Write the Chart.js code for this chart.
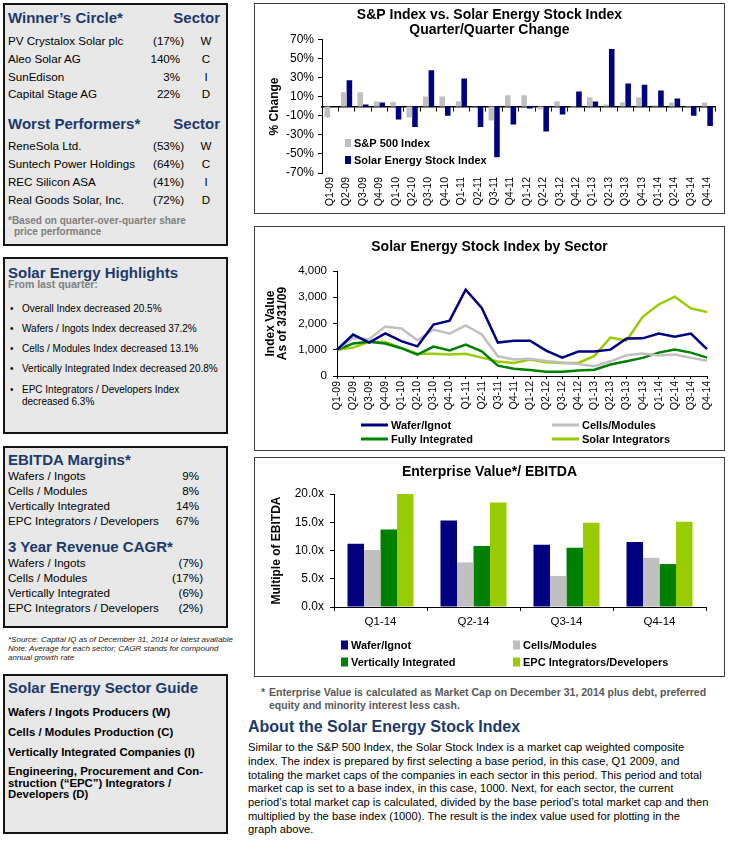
<!DOCTYPE html>
<html><head><meta charset="utf-8">
<script src="https://cdn.jsdelivr.net/npm/chart.js@4.4.1/dist/chart.umd.min.js"></script>
<style>
html,body{margin:0;padding:0;background:#fff;}
body{width:730px;height:841px;position:relative;overflow:hidden;font-family:"Liberation Sans",Arial,sans-serif;color:#000;}
.panel{position:absolute;box-sizing:border-box;border:2px solid #141414;background:#e8e8e8;}
.frame{position:absolute;box-sizing:border-box;border:1px solid #3c3c3c;background:#fff;}
.frame canvas{position:absolute;left:0;top:0;}
.t{position:absolute;white-space:nowrap;line-height:16px;height:16px;}
.h{font-size:15px;font-weight:bold;color:#1b3a6b;}
.r{font-size:11.6px;}
.b{font-size:10px;}
.g{font-weight:bold;color:#7f7f7f;}
.s{font-size:11.4px;font-weight:bold;}
.hp{visibility:hidden;}
.rt{text-align:right;}
.ct{text-align:center;}
</style></head>
<body>
<!-- Left panels -->
<div class="panel" style="left:3px;top:3px;width:225px;height:243px;"></div>
<div class="t h" style="left:8px;top:10px;">Winner’s Circle*</div>
<div class="t h rt" style="left:150px;top:10px;width:70px;">Sector</div>
<div class="t r" style="left:8px;top:33px;">PV Crystalox Solar plc</div>
<div class="t r rt" style="left:130px;top:33px;width:54px;">(17%)</div>
<div class="t r ct" style="left:196px;top:33px;width:20px;">W</div>
<div class="t r" style="left:8px;top:51px;">Aleo Solar AG</div>
<div class="t r rt" style="left:130px;top:51px;width:54px;">140%<span class="hp">)</span></div>
<div class="t r ct" style="left:196px;top:51px;width:20px;">C</div>
<div class="t r" style="left:8px;top:69px;">SunEdison</div>
<div class="t r rt" style="left:130px;top:69px;width:54px;">3%<span class="hp">)</span></div>
<div class="t r ct" style="left:196px;top:69px;width:20px;">I</div>
<div class="t r" style="left:8px;top:86px;">Capital Stage AG</div>
<div class="t r rt" style="left:130px;top:86px;width:54px;">22%<span class="hp">)</span></div>
<div class="t r ct" style="left:196px;top:86px;width:20px;">D</div>
<div class="t h" style="left:8px;top:116px;">Worst Performers*</div>
<div class="t h rt" style="left:150px;top:116px;width:70px;">Sector</div>
<div class="t r" style="left:8px;top:138px;">ReneSola Ltd.</div>
<div class="t r rt" style="left:130px;top:138px;width:54px;">(53%)</div>
<div class="t r ct" style="left:196px;top:138px;width:20px;">W</div>
<div class="t r" style="left:8px;top:156px;">Suntech Power Holdings</div>
<div class="t r rt" style="left:130px;top:156px;width:54px;">(64%)</div>
<div class="t r ct" style="left:196px;top:156px;width:20px;">C</div>
<div class="t r" style="left:8px;top:174px;">REC Silicon ASA</div>
<div class="t r rt" style="left:130px;top:174px;width:54px;">(41%)</div>
<div class="t r ct" style="left:196px;top:174px;width:20px;">I</div>
<div class="t r" style="left:8px;top:192px;">Real Goods Solar, Inc.</div>
<div class="t r rt" style="left:130px;top:192px;width:54px;">(72%)</div>
<div class="t r ct" style="left:196px;top:192px;width:20px;">D</div>
<div class="t b g" style="left:8px;top:213px;">*Based on quarter-over-quarter share</div>
<div class="t b g" style="left:14px;top:224px;">price performance</div>

<div class="panel" style="left:3px;top:257px;width:225px;height:177px;"></div>
<div class="t h" style="left:8px;top:265px;">Solar Energy Highlights</div>
<div class="t g" style="left:8px;top:276px;font-size:10.5px;">From last quarter:</div>
<div class="t b" style="left:10px;top:301px;">•</div><div class="t b" style="left:22px;top:301px;">Overall Index decreased 20.5%</div>
<div class="t b" style="left:10px;top:321px;">•</div><div class="t b" style="left:22px;top:321px;">Wafers / Ingots Index decreased 37.2%</div>
<div class="t b" style="left:10px;top:341px;">•</div><div class="t b" style="left:22px;top:341px;">Cells / Modules Index decreased 13.1%</div>
<div class="t b" style="left:10px;top:361px;">•</div><div class="t b" style="left:22px;top:361px;">Vertically Integrated Index decreased 20.8%</div>
<div class="t b" style="left:10px;top:382px;">•</div><div class="t b" style="left:22px;top:382px;">EPC Integrators / Developers Index</div>
<div class="t b" style="left:22px;top:394px;">decreased 6.3%</div>

<div class="panel" style="left:3px;top:446px;width:225px;height:182px;"></div>
<div class="t h" style="left:8px;top:452px;">EBITDA Margins*</div>
<div class="t r" style="left:8px;top:468px;">Wafers / Ingots</div><div class="t r rt" style="left:150px;top:468px;width:53px;">9%<span class="hp">)</span></div>
<div class="t r" style="left:8px;top:483px;">Cells / Modules</div><div class="t r rt" style="left:150px;top:483px;width:53px;">8%<span class="hp">)</span></div>
<div class="t r" style="left:8px;top:498px;">Vertically Integrated</div><div class="t r rt" style="left:150px;top:498px;width:53px;">14%<span class="hp">)</span></div>
<div class="t r" style="left:8px;top:513px;">EPC Integrators / Developers</div><div class="t r rt" style="left:150px;top:513px;width:53px;">67%<span class="hp">)</span></div>
<div class="t h" style="left:8px;top:539px;">3 Year Revenue CAGR*</div>
<div class="t r" style="left:8px;top:555px;">Wafers / Ingots</div><div class="t r rt" style="left:150px;top:555px;width:53px;">(7%)</div>
<div class="t r" style="left:8px;top:570px;">Cells / Modules</div><div class="t r rt" style="left:150px;top:570px;width:53px;">(17%)</div>
<div class="t r" style="left:8px;top:585px;">Vertically Integrated</div><div class="t r rt" style="left:150px;top:585px;width:53px;">(6%)</div>
<div class="t r" style="left:8px;top:600px;">EPC Integrators / Developers</div><div class="t r rt" style="left:150px;top:600px;width:53px;">(2%)</div>
<div style="position:absolute;left:8px;top:634.5px;font-size:8px;line-height:9px;font-style:italic;color:#222;white-space:nowrap;">*Source: Capital IQ as of December 31, 2014 or latest available<br>Note: Average for each sector; CAGR stands for compound<br>annual growth rate</div>

<div class="panel" style="left:3px;top:674px;width:225px;height:160px;"></div>
<div class="t h" style="left:8px;top:680px;">Solar Energy Sector Guide</div>
<div class="t s" style="left:8px;top:704px;">Wafers / Ingots Producers (W)</div>
<div class="t s" style="left:8px;top:724px;">Cells / Modules Production (C)</div>
<div class="t s" style="left:8px;top:744px;">Vertically Integrated Companies (I)</div>
<div class="s" style="position:absolute;left:8px;top:765.9px;line-height:11.7px;white-space:nowrap;">Engineering, Procurement and Con-<br>struction (“EPC”) Integrators /<br>Developers (D)</div>

<!-- Chart frames -->
<div class="frame" style="left:254px;top:3px;width:471px;height:211px;"><canvas id="c1" width="469" height="209"></canvas></div>
<div class="frame" style="left:254px;top:226px;width:471px;height:225px;"><canvas id="c2" width="469" height="223"></canvas></div>
<div class="frame" style="left:254px;top:457px;width:471px;height:220px;"><canvas id="c3" width="469" height="218"></canvas></div>

<div class="t g" style="left:261px;top:684px;font-size:10.5px;color:#595959;">*</div>
<div class="t g" style="left:269px;top:684px;font-size:10.5px;color:#595959;">Enterprise Value is calculated as Market Cap on December 31, 2014 plus debt, preferred</div>
<div class="t g" style="left:269px;top:697px;font-size:10.5px;color:#595959;">equity and minority interest less cash.</div>
<div class="t" style="left:248px;top:719px;font-size:16px;font-weight:bold;color:#1b3a6b;">About the Solar Energy Stock Index</div>
<div style="position:absolute;left:248px;top:741.15px;font-size:11.2px;line-height:13.7px;white-space:nowrap;">Similar to the S&amp;P 500 Index, the Solar Stock Index is a market cap weighted composite<br>index. The index is prepared by first selecting a base period, in this case, Q1 2009, and<br>totaling the market caps of the companies in each sector in this period. This period and total<br>market cap is set to a base index, in this case, 1000. Next, for each sector, the current<br>period’s total market cap is calculated, divided by the base period’s total market cap and then<br>multiplied by the base index (1000). The result is the index value used for plotting in the<br>graph above.</div>

<script>
// ---------- DATA ----------
const quarters = ['Q1-09','Q2-09','Q3-09','Q4-09','Q1-10','Q2-10','Q3-10','Q4-10','Q1-11','Q2-11','Q3-11','Q4-11','Q1-12','Q2-12','Q3-12','Q4-12','Q1-13','Q2-13','Q3-13','Q4-13','Q1-14','Q2-14','Q3-14','Q4-14'];
const spChange    = [-11.7, 14.9, 14.9, 5.3, 5.1, -11.7, 10.6, 10.5, 5.4, -0.4, -14.8, 11.9, 11.9, -2.9, 5.5, -0.8, 9.7, 2.0, 4.4, 9.7, 1.3, 4.3, 0.6, 4.3];
const solarChange = [0, 27.7, 2.1, 4.2, -13.7, -21.5, 38.2, -9.8, 29.5, -21.5, -53.5, -19.0, -2.0, -26.3, -8.4, 15.8, 5.3, 60.4, 24.2, 22.8, 16.8, 8.4, -9.8, -20.5];

const waferIndex           = [1000,1580,1270,1620,1330,1130,1960,2110,3290,2590,1275,1345,1345,965,700,930,930,1005,1430,1435,1615,1500,1615,1025];
const cellsIndex           = [1000,1450,1400,1885,1810,1360,1770,1615,1925,1580,750,630,660,575,510,460,370,560,790,855,780,815,690,585];
const integratedIndex      = [1000,1235,1305,1235,1060,815,1120,970,1200,940,395,280,230,165,165,205,240,435,560,690,890,1005,890,700];
const solarIntegratorIndex = [1000,1080,1300,1300,1060,850,850,815,850,700,550,500,625,520,500,500,765,1465,1350,2255,2725,3020,2575,2435];

const evQuarters = ['Q1-14','Q2-14','Q3-14','Q4-14'];
const evWafer    = [11.2, 15.3, 11.0, 11.5];
const evCells    = [10.1, 7.9, 5.5, 8.7];
const evVertical = [13.7, 10.8, 10.5, 7.6];
const evEPC      = [20.0, 18.5, 14.9, 15.1];

// ---------- STYLE ----------
const NAVY='#000080', GRAY='#c0c0c0', GREEN='#008000', LIME='#99cc00';
Chart.defaults.font.family = '"Liberation Sans", Arial, sans-serif';
Chart.defaults.color = '#000';
Chart.defaults.animation = false;

const gridLegend = {
  id: 'gridLegend',
  afterDraw(chart, args, o) {
    const ctx = chart.ctx;
    ctx.save();
    ctx.font = o.font;
    ctx.textBaseline = 'middle';
    ctx.textAlign = 'left';
    chart.data.datasets.forEach((ds, i) => {
      const p = o.positions[i]; if (!p) return;
      if (o.marker === 'line') {
        ctx.strokeStyle = ds.borderColor; ctx.lineWidth = o.lineWidth;
        ctx.beginPath(); ctx.moveTo(p[0], p[1]); ctx.lineTo(p[0] + o.markerW, p[1]); ctx.stroke();
      } else {
        ctx.fillStyle = ds.backgroundColor;
        ctx.fillRect(p[0], p[1] - o.markerH / 2, o.markerW, o.markerH);
      }
      ctx.fillStyle = '#000';
      ctx.fillText(ds.label, p[0] + o.markerW + o.gap, p[1] + 0.5);
    });
    ctx.restore();
  }
};

const dummyRight = w => ({type:'linear', position:'right', display:true, afterFit(s){s.width=w;},
  ticks:{display:false}, grid:{display:false, drawTicks:false}, border:{display:false}});

// ---------- CHART 1 ----------
new Chart(document.getElementById('c1'), {
  type: 'bar',
  data: { labels: quarters, datasets: [
    { label: 'S&P 500 Index', data: spChange, backgroundColor: GRAY, xAxisID: 'x' },
    { label: 'Solar Energy Stock Index', data: solarChange, backgroundColor: NAVY, xAxisID: 'x' }
  ]},
  options: {
    responsive: false, animation: false,
    layout: { padding: { left: 0, right: 0, top: 0, bottom: 0 } },
    datasets: { bar: { categoryPercentage: 0.68, barPercentage: 1 } },
    plugins: {
      legend: { display: false }, tooltip: { enabled: false },
      title: { display: true, text: ['S&P Index vs. Solar Energy Stock Index', 'Quarter/Quarter Change'],
        font: { size: 14, weight: 'bold', lineHeight: 1.07 }, color: '#000', padding: { top: 4, bottom: 2 } },
      gridLegend: { positions: [[90,139],[90,156]], marker: 'box', markerW: 6, markerH: 8, gap: 3, font: 'bold 11px "Liberation Sans", Arial, sans-serif' }
    },
    scales: {
      x: { type: 'category', position: { y: 0 }, afterFit(s){ s.height = 0; },
        ticks: { display: false }, grid: { drawOnChartArea: false, drawTicks: true, tickLength: 4, color: '#000', offset: true },
        border: { color: '#000', width: 1.5 } },
      x2: { type: 'category', position: 'bottom', offset: true, afterFit(s){ s.height = 40; },
        grid: { display: false, drawTicks: false }, border: { display: false },
        ticks: { autoSkip: false, minRotation: 90, maxRotation: 90, padding: 4, font: { size: 10.5 }, color: '#000' } },
      y: { min: -70, max: 70, afterFit(s){ s.width = 67; },
        ticks: { stepSize: 20, callback: v => v + '%', font: { size: 12 }, color: '#000', padding: 4 },
        grid: { drawOnChartArea: false, tickLength: 4, color: '#000' }, border: { color: '#000' },
        title: { display: true, text: '% Change', font: { size: 12, weight: 'bold' }, color: '#000', padding: { top: 12.8, bottom: 0 } } },
      yR: dummyRight(3)
    }
  },
  plugins: [gridLegend]
});

// ---------- CHART 2 ----------
const lineDs = (label, data, color) => ({ label, data, borderColor: color, backgroundColor: color, borderWidth: 2.5, pointRadius: 0, tension: 0, fill: false });
new Chart(document.getElementById('c2'), {
  type: 'line',
  data: { labels: quarters, datasets: [
    lineDs('Wafer/Ignot', waferIndex, NAVY),
    lineDs('Cells/Modules', cellsIndex, GRAY),
    lineDs('Fully Integrated', integratedIndex, GREEN),
    lineDs('Solar Integrators', solarIntegratorIndex, LIME)
  ]},
  options: {
    responsive: false, animation: false,
    layout: { padding: { left: 0, right: 0, top: 0, bottom: 40 } },
    plugins: {
      legend: { display: false }, tooltip: { enabled: false },
      title: { display: true, text: 'Solar Energy Stock Index by Sector', font: { size: 14, weight: 'bold', lineHeight: 1.1 }, color: '#000', padding: { top: 12.3, bottom: 16.3 } },
      gridLegend: { positions: [[106,198],[297,198],[106,212],[297,212]], marker: 'line', markerW: 27, lineWidth: 3, gap: 3, font: 'bold 11px "Liberation Sans", Arial, sans-serif' }
    },
    scales: {
      x: { offset: false, afterFit(s){ s.height = 34; },
        grid: { drawOnChartArea: false, tickLength: 3, color: '#000' }, border: { color: '#000' },
        ticks: { autoSkip: false, minRotation: 90, maxRotation: 90, padding: 2, font: { size: 10.5 }, color: '#000' } },
      y: { min: 0, max: 4000, afterFit(s){ s.width = 82; },
        ticks: { stepSize: 1000, callback: v => v.toLocaleString('en-US'), font: { size: 11.5 }, color: '#000', padding: 6 },
        grid: { drawOnChartArea: false, tickLength: 4, color: '#000' }, border: { color: '#000' },
        title: { display: true, text: ['Index Value', 'As of 3/31/09'], font: { size: 12, weight: 'bold', lineHeight: 0.95 }, color: '#000', padding: { top: 10.3, bottom: 0 } } },
      yR: dummyRight(17)
    }
  },
  plugins: [gridLegend]
});

// ---------- CHART 3 ----------
new Chart(document.getElementById('c3'), {
  type: 'bar',
  data: { labels: evQuarters, datasets: [
    { label: 'Wafer/Ignot', data: evWafer, backgroundColor: NAVY },
    { label: 'Cells/Modules', data: evCells, backgroundColor: GRAY },
    { label: 'Vertically Integrated', data: evVertical, backgroundColor: GREEN },
    { label: 'EPC Integrators/Developers', data: evEPC, backgroundColor: LIME }
  ]},
  options: {
    responsive: false, animation: false,
    layout: { padding: { left: 0, right: 0, top: 0, bottom: 45 } },
    datasets: { bar: { categoryPercentage: 0.71, barPercentage: 1 } },
    plugins: {
      legend: { display: false }, tooltip: { enabled: false },
      title: { display: true, text: 'Enterprise Value*/ EBITDA', font: { size: 14, weight: 'bold', lineHeight: 1.1 }, color: '#000', padding: { top: 6.3, bottom: 14.3 } },
      gridLegend: { positions: [[86,187],[258,187],[86,204],[258,204]], marker: 'box', markerW: 7, markerH: 9, gap: 3, font: 'bold 11px "Liberation Sans", Arial, sans-serif' }
    },
    scales: {
      x: { afterFit(s){ s.height = 24; },
        grid: { drawOnChartArea: false, tickLength: 4, color: '#000', offset: true }, border: { color: '#000' },
        ticks: { padding: 4, font: { size: 11.5 }, color: '#000' } },
      y: { min: 0, max: 20, afterFit(s){ s.width = 79; },
        ticks: { stepSize: 5, callback: v => v.toFixed(1) + 'x', font: { size: 12 }, color: '#000', padding: 6 },
        grid: { drawOnChartArea: false, tickLength: 4, color: '#000' }, border: { color: '#000' },
        title: { display: true, text: 'Multiple of EBITDA', font: { size: 12, weight: 'bold' }, color: '#000', padding: { top: 14.8, bottom: 0 } } },
      yR: dummyRight(18)
    }
  },
  plugins: [gridLegend]
});
</script>
</body></html>
